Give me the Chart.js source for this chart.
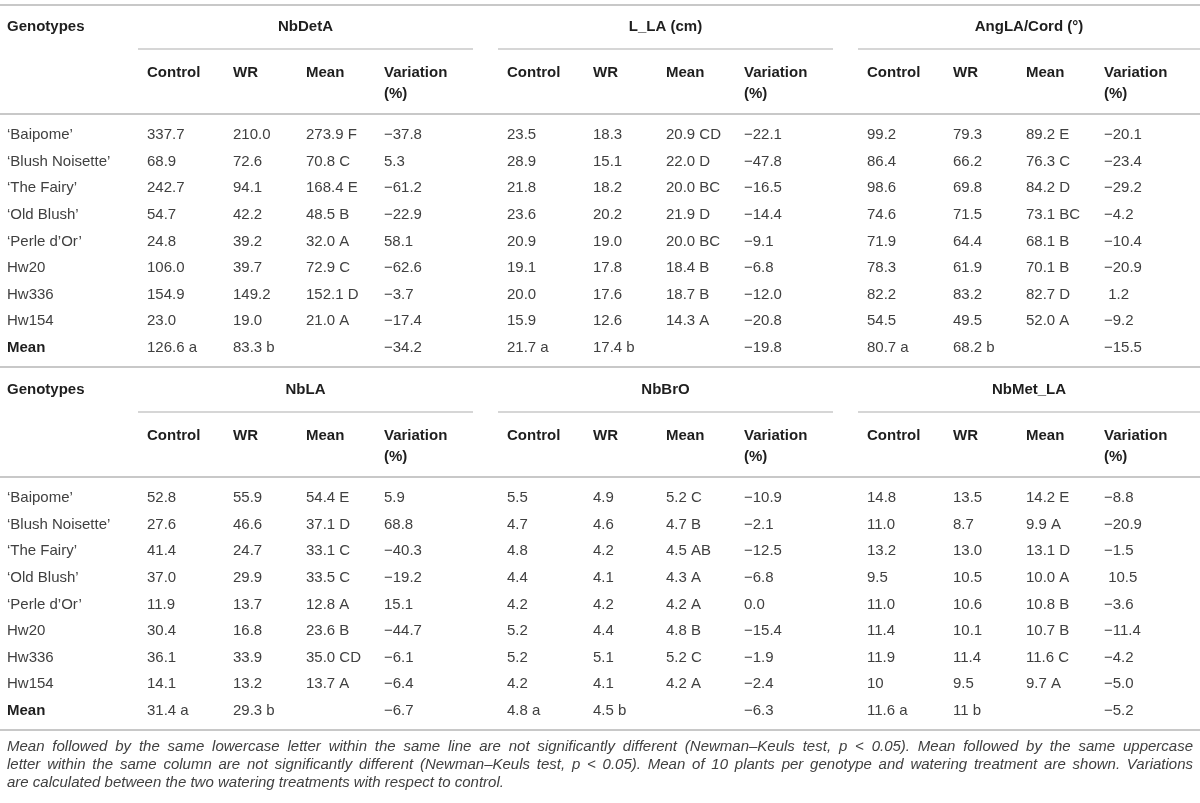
<!DOCTYPE html>
<html>
<head>
<meta charset="utf-8">
<script src="https://cdn.jsdelivr.net/npm/chart.js"></script>
<style>
  html, body { margin: 0; padding: 0; background: #fff; }
  #wrap { width: 1200px; height: 803px; position: relative; }
</style>
</head>
<body>
<div id="wrap"><canvas id="tableChart"></canvas></div>
<script>
// row labels
const genotypes = ["‘Baipome’", "‘Blush Noisette’", "‘The Fairy’", "‘Old Blush’", "‘Perle d’Or’", "Hw20", "Hw336", "Hw154"];
const subHeaders = [["Control"], ["WR"], ["Mean"], ["Variation", "(%)"]];

// NbDetA
const detaControl = ["337.7", "68.9", "242.7", "54.7", "24.8", "106.0", "154.9", "23.0", "126.6 a"];
const detaWR = ["210.0", "72.6", "94.1", "42.2", "39.2", "39.7", "149.2", "19.0", "83.3 b"];
const detaMean = ["273.9 F", "70.8 C", "168.4 E", "48.5 B", "32.0 A", "72.9 C", "152.1 D", "21.0 A", ""];
const detaVar = ["−37.8", "5.3", "−61.2", "−22.9", "58.1", "−62.6", "−3.7", "−17.4", "−34.2"];

// L_LA (cm)
const llaControl = ["23.5", "28.9", "21.8", "23.6", "20.9", "19.1", "20.0", "15.9", "21.7 a"];
const llaWR = ["18.3", "15.1", "18.2", "20.2", "19.0", "17.8", "17.6", "12.6", "17.4 b"];
const llaMean = ["20.9 CD", "22.0 D", "20.0 BC", "21.9 D", "20.0 BC", "18.4 B", "18.7 B", "14.3 A", ""];
const llaVar = ["−22.1", "−47.8", "−16.5", "−14.4", "−9.1", "−6.8", "−12.0", "−20.8", "−19.8"];

// AngLA/Cord
const angControl = ["99.2", "86.4", "98.6", "74.6", "71.9", "78.3", "82.2", "54.5", "80.7 a"];
const angWR = ["79.3", "66.2", "69.8", "71.5", "64.4", "61.9", "83.2", "49.5", "68.2 b"];
const angMean = ["89.2 E", "76.3 C", "84.2 D", "73.1 BC", "68.1 B", "70.1 B", "82.7 D", "52.0 A", ""];
const angVar = ["−20.1", "−23.4", "−29.2", "−4.2", "−10.4", "−20.9", " 1.2", "−9.2", "−15.5"];

// NbLA
const nblaControl = ["52.8", "27.6", "41.4", "37.0", "11.9", "30.4", "36.1", "14.1", "31.4 a"];
const nblaWR = ["55.9", "46.6", "24.7", "29.9", "13.7", "16.8", "33.9", "13.2", "29.3 b"];
const nblaMean = ["54.4 E", "37.1 D", "33.1 C", "33.5 C", "12.8 A", "23.6 B", "35.0 CD", "13.7 A", ""];
const nblaVar = ["5.9", "68.8", "−40.3", "−19.2", "15.1", "−44.7", "−6.1", "−6.4", "−6.7"];

// NbBrO
const brControl = ["5.5", "4.7", "4.8", "4.4", "4.2", "5.2", "5.2", "4.2", "4.8 a"];
const brWR = ["4.9", "4.6", "4.2", "4.1", "4.2", "4.4", "5.1", "4.1", "4.5 b"];
const brMean = ["5.2 C", "4.7 B", "4.5 AB", "4.3 A", "4.2 A", "4.8 B", "5.2 C", "4.2 A", ""];
const brVar = ["−10.9", "−2.1", "−12.5", "−6.8", "0.0", "−15.4", "−1.9", "−2.4", "−6.3"];

// NbMet_LA
const metControl = ["14.8", "11.0", "13.2", "9.5", "11.0", "11.4", "11.9", "10", "11.6 a"];
const metWR = ["13.5", "8.7", "13.0", "10.5", "10.6", "10.1", "11.4", "9.5", "11 b"];
const metMean = ["14.2 E", "9.9 A", "13.1 D", "10.0 A", "10.8 B", "10.7 B", "11.6 C", "9.7 A", ""];
const metVar = ["−8.8", "−20.9", "−1.5", " 10.5", "−3.6", "−11.4", "−4.2", "−5.0", "−5.2"];

const footnote = [
  "Mean followed by the same lowercase letter within the same line are not significantly different (Newman–Keuls test, p < 0.05). Mean followed by the same uppercase",
  "letter within the same column are not significantly different (Newman–Keuls test, p < 0.05). Mean of 10 plants per genotype and watering treatment are shown. Variations",
  "are calculated between the two watering treatments with respect to control."
];

const blocks = [
  [
    { title: "NbDetA", cols: [detaControl, detaWR, detaMean, detaVar] },
    { title: "L_LA (cm)", cols: [llaControl, llaWR, llaMean, llaVar] },
    { title: "AngLA/Cord (°)", cols: [angControl, angWR, angMean, angVar] }
  ],
  [
    { title: "NbLA", cols: [nblaControl, nblaWR, nblaMean, nblaVar] },
    { title: "NbBrO", cols: [brControl, brWR, brMean, brVar] },
    { title: "NbMet_LA", cols: [metControl, metWR, metMean, metVar] }
  ]
];

// layout, in table units (scales run 0..1200 by 0..803)
const groupStart = [138, 498, 858];
const groupEnd = [473, 833, 1200];
const colOffset = [9, 95, 168, 246];
const blockShift = [0, 363];
const rowPitch = 26.6;

const FONT = '"Liberation Sans", Arial, Helvetica, sans-serif';
const textColor = '#404040';
const boldColor = '#1e1e1e';
const ruleColor = '#c8c8c8';

const tablePlugin = {
  id: 'tablePlugin',
  afterDraw(chart) {
    const ctx = chart.ctx;
    const xs = chart.scales.x, ys = chart.scales.y;
    const px = v => xs.getPixelForValue(v);
    const py = v => ys.getPixelForValue(v);

    const rule = (x1, x2, y, w) => {
      ctx.save();
      ctx.strokeStyle = ruleColor;
      ctx.lineWidth = w;
      ctx.beginPath();
      ctx.moveTo(px(x1), py(y));
      ctx.lineTo(px(x2), py(y));
      ctx.stroke();
      ctx.restore();
    };
    const text = (s, x, y, bold, align) => {
      ctx.font = (bold ? 'bold ' : '') + '15px ' + FONT;
      ctx.fillStyle = bold ? boldColor : textColor;
      ctx.textAlign = align || 'left';
      ctx.textBaseline = 'middle';
      ctx.fillText(s, px(x), py(y));
    };

    rule(0, 1200, 5, 2);

    blocks.forEach((groups, b) => {
      const s = blockShift[b];
      text('Genotypes', 7, 27 + s, true);
      groups.forEach((g, gi) => {
        const x0 = groupStart[gi];
        text(g.title, (x0 + groupEnd[gi]) / 2, 27 + s, true, 'center');
        rule(x0, groupEnd[gi], 49 + s, 1.5);
        subHeaders.forEach((lines, ci) => {
          lines.forEach((ln, li) => text(ln, x0 + colOffset[ci], 73 + li * 21 + s, true));
        });
        g.cols.forEach((vals, ci) => {
          vals.forEach((v, ri) => text(v, x0 + colOffset[ci], 135 + ri * rowPitch + s, false));
        });
      });
      rule(0, 1200, 114 + s, 2);
      genotypes.forEach((name, ri) => text(name, 7, 135 + ri * rowPitch + s, false));
      text('Mean', 7, 135 + 8 * rowPitch + s, true);
      rule(0, 1200, 367 + s, 2);
    });

    // footnote, justified like the source
    ctx.font = 'italic 15px ' + FONT;
    ctx.fillStyle = textColor;
    ctx.textBaseline = 'middle';
    ctx.textAlign = 'left';
    const left = px(7), right = px(1193);
    footnote.forEach((line, li) => {
      const y = py(747 + li * 18);
      const words = line.split(' ');
      if (li === footnote.length - 1) { ctx.fillText(line, left, y); return; }
      const widths = words.map(w => ctx.measureText(w).width);
      const total = widths.reduce((a, c) => a + c, 0);
      const gap = (right - left - total) / (words.length - 1);
      let x = left;
      words.forEach((w, wi) => { ctx.fillText(w, x, y); x += widths[wi] + gap; });
    });
  }
};

new Chart('tableChart', {
  type: 'scatter',
  data: { datasets: [{ data: [], pointRadius: 0 }] },
  options: {
    responsive: true,
    maintainAspectRatio: false,
    animation: false,
    layout: { padding: 0 },
    plugins: { legend: { display: false }, tooltip: { enabled: false } },
    scales: {
      x: { type: 'linear', min: 0, max: 1200, display: false },
      y: { type: 'linear', min: 0, max: 803, reverse: true, display: false }
    }
  },
  plugins: [tablePlugin]
});
</script>
</body>
</html>
